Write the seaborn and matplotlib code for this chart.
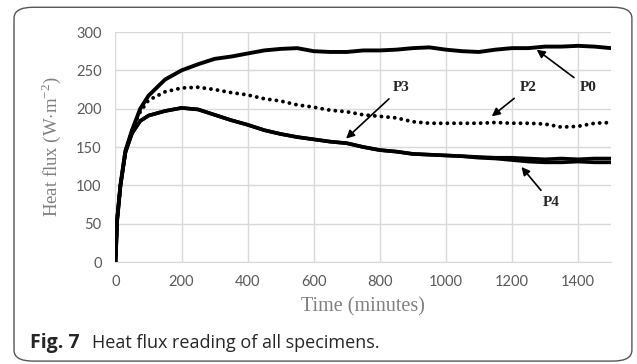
import matplotlib
matplotlib.use('Agg')
import matplotlib.pyplot as plt
import seaborn as sns
import pandas as pd
from matplotlib.patches import FancyBboxPatch

# Time (minutes) and heat flux readings (W/m2)
time_min = [0, 5, 15, 30, 50, 75, 100, 150, 200, 250, 300, 350, 400, 450, 500,
            550, 600, 650, 700, 750, 800, 850, 900, 950, 1000, 1050, 1100, 1150,
            1200, 1250, 1300, 1350, 1400, 1450, 1500]
p0 = [0, 55, 100, 145, 172, 200, 217, 238, 250, 258, 265, 268, 272, 276, 278,
      279, 275, 274, 274, 276, 276, 277, 279, 280, 277, 275, 274, 277,
      279, 279, 281, 281, 282, 281, 279]
p2 = [0, 55, 100, 145, 172, 196, 211, 222, 227, 228, 225, 221, 218, 213, 210,
      205, 202, 198, 196, 192, 190, 188, 183, 181, 181, 181, 181, 182,
      181, 181, 180, 176, 177, 181, 182]
p3 = [0, 55, 100, 143, 168, 184, 191, 197, 201, 199, 192, 185, 179, 172, 167,
      163, 160, 157, 155, 150, 146, 144, 141, 140, 139, 138, 137, 136,
      136, 135, 134, 135, 134, 135, 135]
p4 = [0, 55, 100, 143, 168, 184, 191, 197, 201, 199, 192, 185, 179, 172, 167,
      163, 160, 157, 155, 150, 146, 144, 141, 140, 139, 138, 136, 135,
      133, 131, 130, 130, 131, 130, 130]

df = pd.DataFrame({'Time': time_min, 'P0': p0, 'P2': p2, 'P3': p3, 'P4': p4})

sns.set_style('whitegrid')
plt.rcParams['mathtext.fontset'] = 'custom'
plt.rcParams['mathtext.rm'] = 'Liberation Serif'

fig = plt.figure(figsize=(6.37, 3.64), dpi=100)
ax = fig.add_axes([0.1813, 0.2802, 0.9592 - 0.1813, 0.912 - 0.2802])

# card frame around the figure
fig.patches.append(FancyBboxPatch((0.022, 0.008), 0.97, 0.972,
                                  boxstyle='round,pad=0,rounding_size=0.03',
                                  transform=fig.transFigure, fill=False,
                                  edgecolor='#555555', linewidth=1.0))

sns.lineplot(data=df, x='Time', y='P0', ax=ax, color='black', linewidth=2.8)
sns.lineplot(data=df, x='Time', y='P3', ax=ax, color='black', linewidth=2.6)
sns.lineplot(data=df, x='Time', y='P4', ax=ax, color='black', linewidth=2.6)
sns.lineplot(data=df, x='Time', y='P2', ax=ax, color='black', linewidth=2.8,
             linestyle=(0, (0.01, 1.7)), dash_capstyle='round')

ax.set_xlim(0, 1500)
ax.set_ylim(0, 300)
ax.set_xticks(range(0, 1401, 200))
ax.set_yticks(range(0, 301, 50))
ax.grid(True, color='#d9d9d9', linewidth=1.0)
for s in ['top', 'right', 'left']:
    ax.spines[s].set_visible(False)
ax.spines['bottom'].set_color('#d9d9d9')
ax.tick_params(axis='x', direction='inout', length=6, color='#c8c8c8',
               labelsize=10.5, labelcolor='#595959', pad=6)
ax.tick_params(axis='y', length=0, labelsize=10.5, labelcolor='#595959', pad=10)
for lab in ax.get_xticklabels() + ax.get_yticklabels():
    lab.set_family('Lato')

ax.set_xlabel('Time (minutes)', family='Liberation Serif', fontsize=14.5,
              color='#7f7f7f', labelpad=6)
ax.set_ylabel(r'Heat flux (W$\cdot$m$^{-2}$)', family='Liberation Serif',
              fontsize=13.5, color='#7f7f7f', labelpad=9)

arrow = dict(arrowstyle='-|>', color='black', lw=1.2, mutation_scale=12,
             shrinkA=2, shrinkB=0)
lab_kw = dict(family='Liberation Serif', fontweight='bold', fontsize=11,
              ha='center', va='center')
ax.annotate('P0', xy=(1275, 277), xytext=(1430, 227), arrowprops=arrow, **lab_kw)
ax.annotate('P2', xy=(1139, 190), xytext=(1249, 228), arrowprops=arrow, **lab_kw)
ax.annotate('P3', xy=(698, 161), xytext=(866, 228), arrowprops=arrow, **lab_kw)
ax.annotate('P4', xy=(1229, 124), xytext=(1318, 78), arrowprops=arrow, **lab_kw)

fig.text(0.047, 0.057, 'Fig. 7', family='Open Sans', fontweight='bold',
         fontsize=14, va='center')
fig.text(0.145, 0.057, 'Heat flux reading of all specimens.', family='Open Sans',
         fontsize=13, va='center')

plt.savefig('out.png', dpi=100)
